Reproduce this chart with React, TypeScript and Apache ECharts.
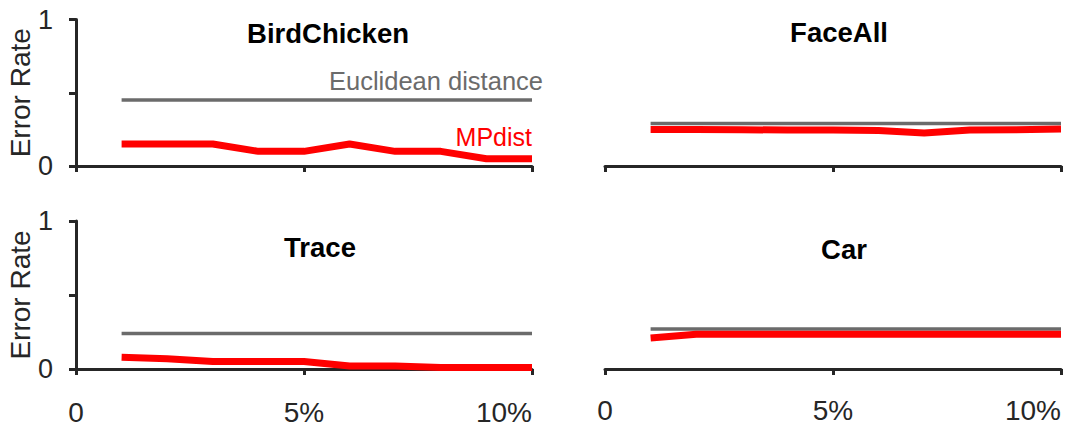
import React, { useEffect, useRef } from "react";
import * as echarts from "echarts";

// ---- data ----
const xPercent = [1, 2, 3, 4, 5, 6, 7, 8, 9, 10];
const panelTitles = ["BirdChicken", "FaceAll", "Trace", "Car"];
const birdChickenMPdist = [0.15, 0.15, 0.15, 0.1, 0.1, 0.15, 0.1, 0.1, 0.05, 0.05];
const faceAllMPdist = [0.25, 0.25, 0.248, 0.245, 0.245, 0.243, 0.225, 0.245, 0.248, 0.252];
const traceMPdist = [0.08, 0.07, 0.05, 0.05, 0.05, 0.02, 0.02, 0.01, 0.01, 0.01];
const carMPdist = [0.21, 0.235, 0.235, 0.235, 0.235, 0.235, 0.235, 0.235, 0.235, 0.235];
const euclideanError = [0.45, 0.29, 0.24, 0.27];
const mpdistByPanel = [birdChickenMPdist, faceAllMPdist, traceMPdist, carMPdist];
const xTickValues = [0, 5, 10];
const yTickValues = [0, 0.5, 1];
const yAxisTitle = "Error Rate";
const edLabel = "Euclidean distance";
const mpLabel = "MPdist";

// ---- layout / style ----
const FONT = '"Liberation Sans", Arial, Helvetica, sans-serif';
const AXIS_COLOR = "#262626";
const GREY = "#6b6b6b";
const RED = "#ff0000";

const grids = [
  { left: 76, top: 19.5, width: 456, height: 146.5 },
  { left: 605, top: 19.5, width: 456, height: 146.5 },
  { left: 76, top: 221, width: 456, height: 148 },
  { left: 605, top: 221, width: 456, height: 148 },
];
const xAxisOffsets = [8.5, 12, 9, 7];
const titlePos = [
  [328, 33],
  [839, 32],
  [320, 247],
  [844, 249],
];

export default function App() {
  const ref = useRef<HTMLDivElement>(null);
  useEffect(() => {
    if (!ref.current) return;
    const chart = echarts.init(ref.current, null, { renderer: "svg" });

    const xAxes = grids.map((_, i) => ({
      type: "value",
      gridIndex: i,
      min: 0,
      max: 10,
      interval: 5,
      offset: xAxisOffsets[i],
      splitLine: { show: false },
      axisLine: { show: true, lineStyle: { color: AXIS_COLOR, width: 3 } },
      axisTick: { show: true, inside: false, length: 6, lineStyle: { color: AXIS_COLOR, width: 3 } },
      axisLabel: {
        show: i >= 2,
        margin: 20,
        fontSize: 28,
        fontFamily: FONT,
        color: AXIS_COLOR,
        alignMaxLabel: "right",
        formatter: (v: number) => (xTickValues.includes(v) ? (v === 0 ? "0" : v + "%") : ""),
      },
    }));

    const yAxes = grids.map((_, i) => ({
      type: "value",
      gridIndex: i,
      min: 0,
      max: 1,
      interval: 0.5,
      show: i % 2 === 0,
      offset: 6,
      splitLine: { show: false },
      name: yAxisTitle,
      nameLocation: "middle",
      nameGap: 32,
      nameTextStyle: { fontSize: 28, fontFamily: FONT, color: AXIS_COLOR },
      axisLine: { show: true, lineStyle: { color: AXIS_COLOR, width: 3 } },
      axisTick: { show: true, inside: false, length: 7, lineStyle: { color: AXIS_COLOR, width: 3 } },
      axisLabel: {
        margin: 17,
        fontSize: 27,
        fontFamily: FONT,
        color: AXIS_COLOR,
        formatter: (v: number) => (yTickValues.includes(v) && v !== 0.5 ? String(v) : ""),
      },
    }));

    const series: any[] = [];
    grids.forEach((_, i) => {
      const ed = euclideanError[i];
      series.push({
        type: "line",
        xAxisIndex: i,
        yAxisIndex: i,
        showSymbol: false,
        symbol: "none",
        silent: true,
        lineStyle: { color: GREY, width: 3.5, cap: "butt" },
        data: [
          [xPercent[0], ed],
          [xPercent[xPercent.length - 1], ed],
        ],
        markPoint:
          i === 0
            ? {
                silent: true,
                symbol: "rect",
                symbolSize: 0,
                itemStyle: { color: "transparent" },
                data: [
                  {
                    coord: [xPercent[xPercent.length - 1], ed],
                    label: {
                      show: true,
                      formatter: edLabel,
                      position: [0, 0],
                      align: "right",
                      verticalAlign: "middle",
                      offset: [11, -19],
                      fontSize: 25.5,
                      fontFamily: FONT,
                      color: GREY,
                    },
                  },
                ],
              }
            : undefined,
      });
      const mp = mpdistByPanel[i];
      series.push({
        type: "line",
        xAxisIndex: i,
        yAxisIndex: i,
        showSymbol: false,
        symbol: "none",
        silent: true,
        z: 3,
        lineStyle: { color: RED, width: 7, cap: "butt", join: "round" },
        data: xPercent.map((x, k) => [x, mp[k]]),
        markPoint:
          i === 0
            ? {
                silent: true,
                symbol: "rect",
                symbolSize: 0,
                itemStyle: { color: "transparent" },
                data: [
                  {
                    coord: [xPercent[xPercent.length - 1], mp[mp.length - 1]],
                    label: {
                      show: true,
                      formatter: mpLabel,
                      position: [0, 0],
                      align: "right",
                      verticalAlign: "middle",
                      offset: [0, -22],
                      fontSize: 25,
                      fontFamily: FONT,
                      color: RED,
                    },
                  },
                ],
              }
            : undefined,
      });
    });

    chart.setOption({
      animation: false,
      backgroundColor: "#ffffff",
      grid: grids.map((g) => ({ ...g, containLabel: false })),
      xAxis: xAxes,
      yAxis: yAxes,
      series,
      graphic: panelTitles.map((t, i) => ({
        type: "text",
        x: titlePos[i][0],
        y: titlePos[i][1],
        silent: true,
        style: {
          text: t,
          fill: "#000000",
          font: `bold 27.5px ${FONT}`,
          textAlign: "center",
          textVerticalAlign: "middle",
          align: "center",
          verticalAlign: "middle",
        },
      })),
    });
    return () => chart.dispose();
  }, []);
  return (
    <div
      ref={ref}
      style={{ position: "fixed", left: 0, top: 0, width: 1078, height: 428, background: "#fff" }}
    />
  );
}
